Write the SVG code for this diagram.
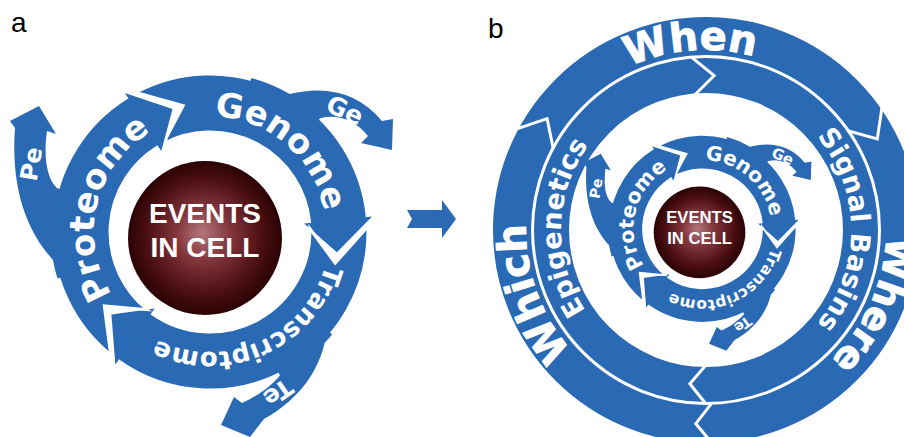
<svg xmlns="http://www.w3.org/2000/svg" width="904" height="437" viewBox="0 0 904 437">
<defs>
<radialGradient id="sph" cx="0.5" cy="0.5" r="0.5" fx="0.48" fy="0.46">
<stop offset="0" stop-color="#b3777b"/>
<stop offset="0.35" stop-color="#82363c"/>
<stop offset="0.75" stop-color="#4c0f13"/>
<stop offset="1" stop-color="#2a0304"/>
</radialGradient>
<path id="tpGen" d="M137,141.9 A116,116 0 0 1 309.4,291.7"/>
<path id="tpTra" d="M326.4,203 A120,120 0 0 1 110.5,299.1"/>
<path id="tpPro" d="M163.7,338.4 A116,116 0 0 1 217.1,116.2"/>
<path id="tpWhen" d="M526.7,213.7 A180,180 0 0 1 880,184"/>
<path id="tpWhere" d="M806.7,80.8 A180,180 0 0 1 662.5,404.7"/>
<path id="tpWhich" d="M737.3,407.3 A180,180 0 0 1 616,74.1"/>
<path id="tpEpi" d="M678.3,372.3 A145,145 0 0 1 683.3,86.8"/>
<path id="tpSig" d="M731.2,87.2 A145,145 0 0 1 731.2,372.8"/>
<style>
.arr{fill:#2a6ab4;stroke:#fff;stroke-width:3;stroke-linejoin:miter}
.br{fill:#2a6ab4}
.lbl{font-family:"DejaVu Sans","Liberation Sans",sans-serif;font-weight:bold;fill:#fff}
.heavy{stroke:#fff;stroke-width:0.9}
.ctr{font-family:"Liberation Sans",Arial,sans-serif;font-weight:bold;font-size:28px;fill:#fff;text-anchor:middle}
.band{fill:none;stroke:#2a6ab4}
.chev{fill:none;stroke:#fff;stroke-width:3;stroke-linejoin:miter}
.pl{font-family:"Liberation Sans",Arial,sans-serif;font-size:28px;fill:#000}
.mid{text-anchor:middle}
</style>
</defs>
<rect width="904" height="437" fill="#fff"/>
<text class="pl" x="11" y="32">a</text>
<text class="pl" x="488" y="38">b</text>

<g id="panel-a">
<g id="a-genome">
<path class="arr" d="M135.8,92.5 A158,158 0 0 1 367.1,215.5 L376.1,214.5 L337,254.4 L300.5,222.5 L309.5,221.5 A100,100 0 0 0 163.05,143.7 L183.2,105.8 Z"/>
<path class="br" d="M246.2,96.8 L251.3,77.9 A159.5,159.5 0 0 1 289.75,93.9 Q348,80 382,121 L393,119 L392,150 L361,143 L368,136 Q348,112 321,118 L305.5,129.6 Z"/>
<text class="lbl" font-size="34"><textPath href="#tpGen" startOffset="50%" text-anchor="middle">Genome</textPath></text>
<text class="lbl mid" font-size="25" transform="translate(345,110) rotate(24)" y="9">Ge</text>
</g>
<g id="a-transcriptome">
<path class="arr" d="M367.9,226.5 A158,158 0 0 1 119.4,361.4 L114.2,368.8 L109.8,313.2 L157.8,306.5 L152.6,313.9 A100,100 0 0 0 309.9,228.5 L335.2,263.2 Z"/>
<path class="br" d="M317.2,322 L332.2,334.5 A159.5,159.5 0 0 1 324.7,342.8 C319,368 302,398 264,419 L250,437 L221,425 L234,397 L242,403 C258,396 272,385 279.9,375.4 L271.4,357.8 Z"/>
<text class="lbl" font-size="26"><textPath href="#tpTra" startOffset="50%" text-anchor="middle">Transcriptome</textPath></text>
<text class="lbl mid" font-size="24" transform="translate(278,393) rotate(145)" y="8.5">Te</text>
</g>
<g id="a-proteome">
<path class="arr" d="M110.6,354.8 A158,158 0 0 1 126.3,98 L121.5,90.4 L174.4,108 L161.8,154.8 L157,147.2 A100,100 0 0 0 147.1,309.7 L104.3,306 Z"/>
<path class="br" d="M76.1,272.9 L57.5,278.6 A159.5,159.5 0 0 1 52.9,259.7 C31,236 10,195 15,128 L10,121 L39,106 L56,134 L47,131 C44,152 45,176 56.7,188 L75.4,193.4 Z"/>
<text class="lbl" font-size="34"><textPath href="#tpPro" startOffset="50%" text-anchor="middle">Proteome</textPath></text>
<text class="lbl mid" font-size="24" transform="translate(31,164) rotate(-80)" y="8.5">Pe</text>
</g>
<g id="a-events">
<circle cx="205" cy="238" r="77" fill="url(#sph)"/>
<text class="ctr" x="205" y="223">EVENTS</text>
<text class="ctr" x="205" y="257">IN CELL</text>
</g>
</g>

<g id="transition-arrow">
<path fill="#2a6ab4" d="M407,210 L442,210 L442,200 L456,219 L442,238 L442,228 L407,228 L412,219 Z"/>
</g>

<g id="panel-b">
<g id="b-rings">
<circle class="band" cx="706" cy="230" r="194" stroke-width="38"/>
<circle class="band" cx="706" cy="230" r="154.5" stroke-width="35"/>
<g id="connectors">
<polyline class="chev" points="516.2,129.1 547.1,118.7 553.3,148.8"/>
<polyline class="chev" points="882.1,106.7 877.3,138.9 847.7,130.8"/>
<polyline class="chev" points="713.5,444.9 695.8,423.7 712,402.9"/>
<polyline class="chev" points="690.8,56.7 714.1,75.7 694.2,95.5"/>
<polyline class="chev" points="706,404 689.9,383.7 706,365"/>
</g>
<g id="b-when"><text class="lbl heavy" font-size="40"><textPath href="#tpWhen" startOffset="50%" text-anchor="middle">When</textPath></text></g>
<g id="b-where"><text class="lbl heavy" font-size="38"><textPath href="#tpWhere" startOffset="50%" text-anchor="middle">Where</textPath></text></g>
<g id="b-which"><text class="lbl heavy" font-size="40"><textPath href="#tpWhich" startOffset="50%" text-anchor="middle">Which</textPath></text></g>
<g id="b-epigenetics"><text class="lbl" font-size="27"><textPath href="#tpEpi" startOffset="50%" text-anchor="middle">Epigenetics</textPath></text></g>
<g id="b-signal"><text class="lbl" font-size="27"><textPath href="#tpSig" startOffset="50%" text-anchor="middle">Signal Basins</textPath></text></g>
</g>
<g id="b-cycle" transform="translate(577.55,90.76) scale(0.595)">
<g id="b-genome">
<path class="arr" d="M135.8,92.5 A158,158 0 0 1 367.1,215.5 L376.1,214.5 L337,254.4 L300.5,222.5 L309.5,221.5 A100,100 0 0 0 163.05,143.7 L183.2,105.8 Z"/>
<path class="br" d="M246.2,96.8 L251.3,77.9 A159.5,159.5 0 0 1 289.75,93.9 Q348,80 382,121 L393,119 L392,150 L361,143 L368,136 Q348,112 321,118 L305.5,129.6 Z"/>
<text class="lbl" font-size="34"><textPath href="#tpGen" startOffset="50%" text-anchor="middle">Genome</textPath></text>
<text class="lbl mid" font-size="25" transform="translate(345,110) rotate(24)" y="9">Ge</text>
</g>
<g id="b-transcriptome">
<path class="arr" d="M367.9,226.5 A158,158 0 0 1 119.4,361.4 L114.2,368.8 L109.8,313.2 L157.8,306.5 L152.6,313.9 A100,100 0 0 0 309.9,228.5 L335.2,263.2 Z"/>
<path class="br" d="M317.2,322 L332.2,334.5 A159.5,159.5 0 0 1 324.7,342.8 C319,368 302,398 264,419 L250,437 L221,425 L234,397 L242,403 C258,396 272,385 279.9,375.4 L271.4,357.8 Z"/>
<text class="lbl" font-size="26"><textPath href="#tpTra" startOffset="50%" text-anchor="middle">Transcriptome</textPath></text>
<text class="lbl mid" font-size="24" transform="translate(278,393) rotate(145)" y="8.5">Te</text>
</g>
<g id="b-proteome">
<path class="arr" d="M110.6,354.8 A158,158 0 0 1 126.3,98 L121.5,90.4 L174.4,108 L161.8,154.8 L157,147.2 A100,100 0 0 0 147.1,309.7 L104.3,306 Z"/>
<path class="br" d="M76.1,272.9 L57.5,278.6 A159.5,159.5 0 0 1 52.9,259.7 C31,236 10,195 15,128 L10,121 L39,106 L56,134 L47,131 C44,152 45,176 56.7,188 L75.4,193.4 Z"/>
<text class="lbl" font-size="34"><textPath href="#tpPro" startOffset="50%" text-anchor="middle">Proteome</textPath></text>
<text class="lbl mid" font-size="24" transform="translate(31,164) rotate(-80)" y="8.5">Pe</text>
</g>
<g id="b-events">
<circle cx="205" cy="238" r="77" fill="url(#sph)"/>
<text class="ctr" x="205" y="223">EVENTS</text>
<text class="ctr" x="205" y="257">IN CELL</text>
</g>
</g>
</g>
</svg>
